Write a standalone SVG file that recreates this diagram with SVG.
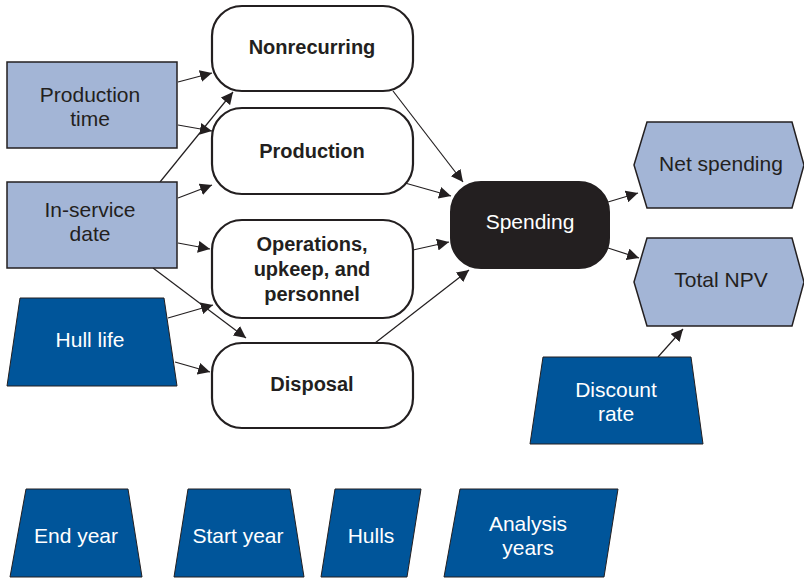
<svg xmlns="http://www.w3.org/2000/svg" width="804" height="578" viewBox="0 0 804 578">
<defs>
<marker id="ah" viewBox="0 0 10 10" refX="10" refY="5" markerWidth="12" markerHeight="12" markerUnits="userSpaceOnUse" orient="auto">
<path d="M0,0 L10,5 L0,10 z" fill="#231f20"/>
</marker>
</defs>
<style>
.lb{fill:#a3b5d6;stroke:#231f20;stroke-width:1.5}
.db{fill:#00559a;stroke:#231f20;stroke-width:1}
.wn{fill:#ffffff;stroke:#231f20;stroke-width:2.2}
.bk{fill:#231f20;stroke:#231f20;stroke-width:2}
.t{font-family:"Liberation Sans",Arial,sans-serif;font-size:21px;fill:#231f20;text-anchor:middle}
.tw{font-family:"Liberation Sans",Arial,sans-serif;font-size:21px;fill:#ffffff;text-anchor:middle}
.tb{font-family:"Liberation Sans",Arial,sans-serif;font-size:20px;font-weight:bold;fill:#231f20;text-anchor:middle}
.c{stroke:#231f20;stroke-width:1.2;fill:none;marker-end:url(#ah)}
</style>
<rect width="804" height="578" fill="#ffffff"/>
<g id="connectors">
<line class="c" x1="178" y1="82" x2="212" y2="73"/>
<line class="c" x1="178" y1="125" x2="212" y2="131"/>
<line class="c" x1="160" y1="182" x2="233" y2="92"/>
<line class="c" x1="178" y1="198" x2="212" y2="185"/>
<line class="c" x1="178" y1="243" x2="210" y2="249"/>
<line class="c" x1="153" y1="268" x2="246" y2="338"/>
<line class="c" x1="168" y1="318" x2="213" y2="305"/>
<line class="c" x1="175" y1="362" x2="210" y2="372"/>
<line class="c" x1="393" y1="91" x2="463" y2="182"/>
<line class="c" x1="405" y1="183" x2="451" y2="196"/>
<line class="c" x1="413" y1="250" x2="449" y2="242"/>
<line class="c" x1="375" y1="343" x2="469" y2="270"/>
<line class="c" x1="608" y1="202" x2="638" y2="193"/>
<line class="c" x1="608" y1="248" x2="639" y2="258"/>
<line class="c" x1="658" y1="357" x2="683" y2="329"/>
</g>
<g id="production-time">
<rect class="lb" x="7" y="62" width="170" height="86"/>
<text class="t" x="90" y="102">Production</text>
<text class="t" x="90" y="126">time</text>
</g>
<g id="in-service-date">
<rect class="lb" x="7" y="182" width="170" height="86"/>
<text class="t" x="90" y="217">In-service</text>
<text class="t" x="90" y="241">date</text>
</g>
<g id="hull-life">
<polygon class="db" points="20,298 164,298 177,386 7,386"/>
<text class="tw" x="90" y="347">Hull life</text>
</g>
<g id="nonrecurring">
<rect class="wn" x="212" y="6" width="201" height="85" rx="30"/>
<text class="tb" x="312" y="54">Nonrecurring</text>
</g>
<g id="production">
<rect class="wn" x="212" y="108" width="201" height="86" rx="30"/>
<text class="tb" x="312" y="158">Production</text>
</g>
<g id="operations">
<rect class="wn" x="212" y="220" width="201" height="98" rx="30"/>
<text class="tb" x="312" y="251">Operations,</text>
<text class="tb" x="312" y="276">upkeep, and</text>
<text class="tb" x="312" y="301">personnel</text>
</g>
<g id="disposal">
<rect class="wn" x="212" y="343" width="201" height="85" rx="30"/>
<text class="tb" x="312" y="391">Disposal</text>
</g>
<g id="spending">
<rect class="bk" x="451" y="182" width="158" height="86" rx="30"/>
<text class="tw" x="530" y="229">Spending</text>
</g>
<g id="net-spending">
<polygon class="lb" points="634,165 647,122 792,122 804,165 792,208 647,208"/>
<text class="t" x="721" y="171">Net spending</text>
</g>
<g id="total-npv">
<polygon class="lb" points="634,282 647,238 792,238 804,282 792,326 647,326"/>
<text class="t" x="721" y="287">Total NPV</text>
</g>
<g id="discount-rate">
<polygon class="db" points="543,357 691,357 703,444 530,444"/>
<text class="tw" x="616" y="397">Discount</text>
<text class="tw" x="616" y="421">rate</text>
</g>
<g id="end-year">
<polygon class="db" points="26,489 128,489 142,577 10,577"/>
<text class="tw" x="76" y="543">End year</text>
</g>
<g id="start-year">
<polygon class="db" points="188,489 290,489 304,577 174,577"/>
<text class="tw" x="238" y="543">Start year</text>
</g>
<g id="hulls">
<polygon class="db" points="335,489 421,489 407,577 321,577"/>
<text class="tw" x="371" y="543">Hulls</text>
</g>
<g id="analysis-years">
<polygon class="db" points="460,489 618,489 604,577 444,577"/>
<text class="tw" x="528" y="531">Analysis</text>
<text class="tw" x="528" y="555">years</text>
</g>
</svg>
